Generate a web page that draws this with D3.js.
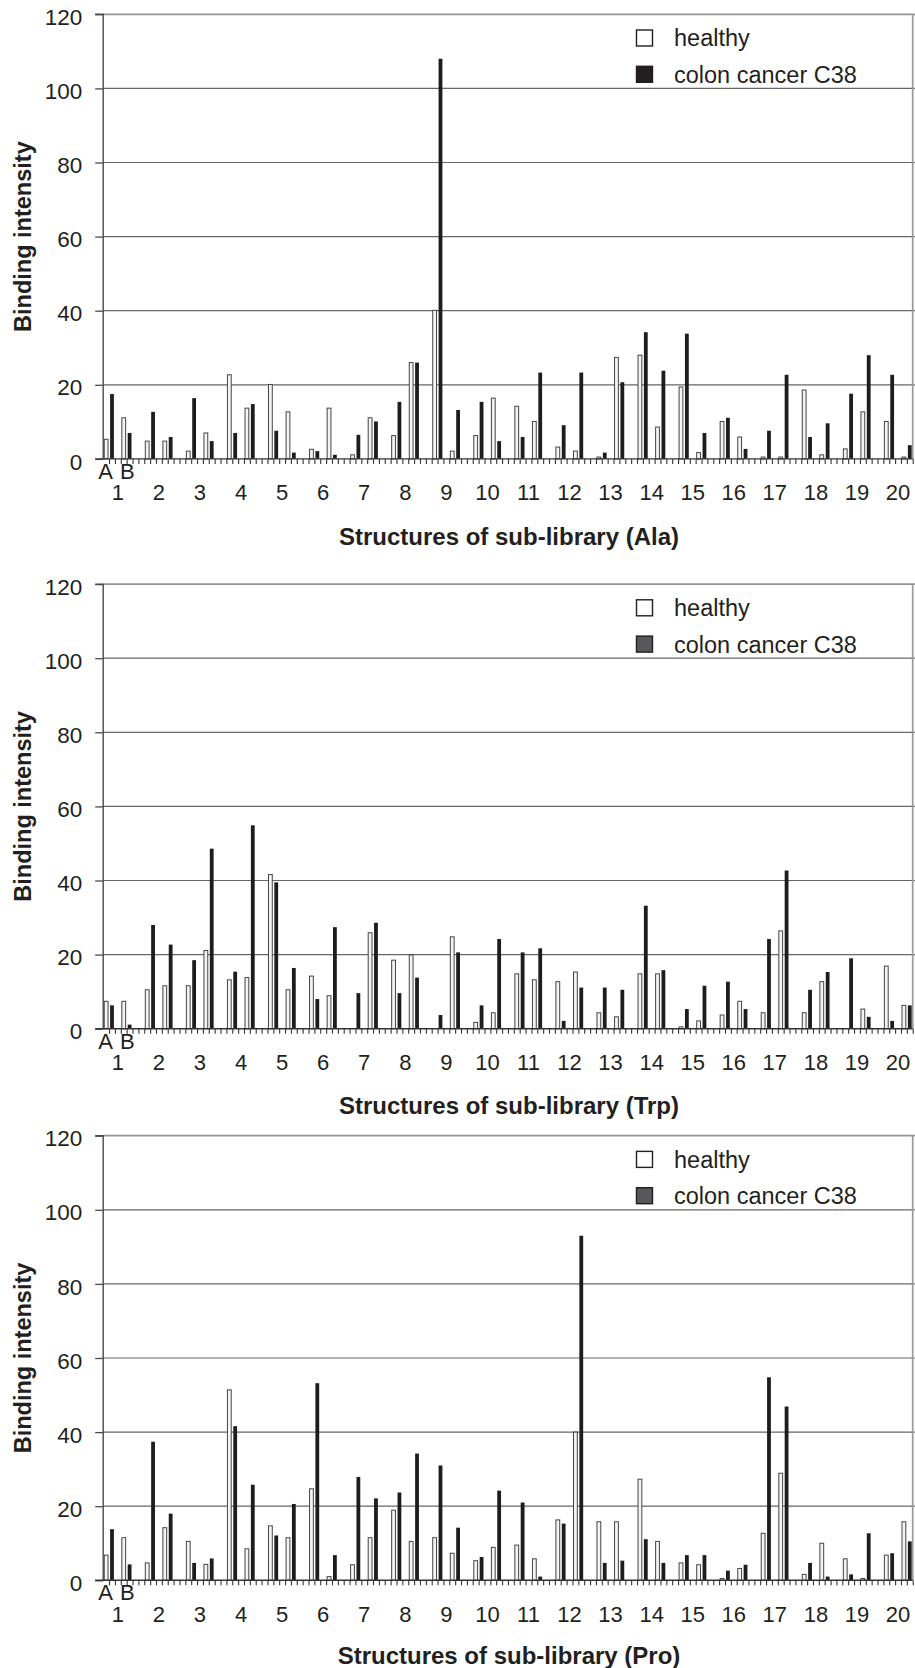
<!DOCTYPE html>
<html>
<head>
<meta charset="utf-8">
<script src="https://cdn.jsdelivr.net/npm/d3@7"></script>
<style>
  html, body { margin: 0; padding: 0; background: #fff; }
  svg { display: block; }
  text { font-family: "Liberation Sans", Arial, Helvetica, sans-serif; fill: #231f20; }
</style>
</head>
<body>
<svg id="chart" width="915" height="1668"></svg>
<script>
// ---------------- DATA ----------------
const structures = d3.range(1, 21);          // structure numbers 1..20
const subCategories = ["A", "B"];            // two variants per structure
const yTicks = [0, 20, 40, 60, 80, 100, 120];
const seriesNames = ["healthy", "colon cancer C38"];
const subLibraries = ["Ala", "Trp", "Pro"];

// values in order 1A,1B,2A,2B,...,20A,20B
const alaHealthy = [5.3, 11.1, 4.8, 4.8, 2.1, 7.0, 22.7, 13.7, 20.1, 12.7,
  2.6, 13.7, 1.1, 11.1, 6.3, 26.0, 40.1, 2.1, 6.3, 16.4,
  14.2, 10.1, 3.2, 2.1, 0.5, 27.4, 28.0, 8.6, 19.4, 1.7,
  10.1, 5.9, 0.5, 0.5, 18.6, 1.1, 2.7, 12.7, 10.1, 0.5];
const alaCancer = [17.5, 7.0, 12.7, 5.9, 16.4, 4.8, 7.0, 14.8, 7.6, 1.7,
  2.1, 1.1, 6.5, 10.1, 15.4, 26.0, 108.0, 13.2, 15.4, 4.8,
  5.9, 23.3, 9.1, 23.3, 1.7, 20.7, 34.2, 23.8, 33.8, 7.0,
  11.1, 2.7, 7.6, 22.7, 5.9, 9.6, 17.6, 28.0, 22.7, 3.7];

const trpHealthy = [7.4, 7.4, 10.5, 11.6, 11.6, 21.1, 13.2, 13.8, 41.6, 10.5,
  14.2, 8.9, 0, 25.9, 18.5, 19.9, 0, 24.8, 1.7, 4.3,
  14.8, 13.2, 12.7, 15.3, 4.3, 3.2, 14.8, 14.8, 0.5, 2.1,
  3.7, 7.4, 4.3, 26.4, 4.3, 12.7, 0, 5.3, 16.9, 6.3];
const trpCancer = [6.3, 1.1, 28.0, 22.7, 18.5, 48.6, 15.4, 54.9, 39.5, 16.4,
  8.0, 27.4, 9.6, 28.6, 9.6, 13.8, 3.7, 20.6, 6.3, 24.2,
  20.6, 21.7, 2.1, 11.1, 11.1, 10.5, 33.2, 15.8, 5.3, 11.6,
  12.7, 5.3, 24.2, 42.7, 10.5, 15.3, 19.0, 3.2, 2.1, 6.3];

const proHealthy = [6.8, 11.5, 4.7, 14.2, 10.5, 4.3, 51.4, 8.5, 14.7, 11.5,
  24.7, 1.0, 4.2, 11.5, 18.9, 10.5, 11.5, 7.3, 5.3, 8.9,
  9.5, 5.8, 16.3, 40.0, 15.8, 15.8, 27.3, 10.5, 4.7, 4.2,
  0.5, 3.2, 12.7, 28.9, 1.6, 10.0, 5.8, 0.5, 6.8, 15.8];
const proCancer = [13.8, 4.3, 37.4, 18.0, 4.7, 5.9, 41.6, 25.8, 12.1, 20.6,
  53.2, 6.8, 27.9, 22.1, 23.7, 34.2, 31.0, 14.2, 6.3, 24.2,
  21.0, 1.0, 15.3, 93.0, 4.7, 5.3, 11.1, 4.7, 6.8, 6.8,
  2.6, 4.2, 54.8, 46.9, 4.7, 1.0, 1.6, 12.7, 7.3, 10.5];

// ---------------- LAYOUT ----------------
const W = 915, H = 1668;
const plotLeft = 103.2, plotRight = 912.7;
const plotH = 444.6;
const panels = [
  { lib: subLibraries[0], healthy: alaHealthy, cancer: alaCancer, top: 14.3,  legendFill: "#231f20", titleOff: 77 },
  { lib: subLibraries[1], healthy: trpHealthy, cancer: trpCancer, top: 584.1, legendFill: "#58585a", titleOff: 77 },
  { lib: subLibraries[2], healthy: proHealthy, cancer: proCancer, top: 1135.7, legendFill: "#58585a", titleOff: 75 }
];

const slotsPerStructure = 7;   // hA, cA, gap, hB, cB, gap, gap
const totalSlots = slotsPerStructure * (structures.length - 1) + 5;
const x = d3.scaleLinear().domain([0, totalSlots]).range([plotLeft, plotRight]);
const barW = 3.8;

const svg = d3.select("#chart");
svg.append("rect").attr("width", W).attr("height", H).attr("fill", "#fff");

panels.forEach(p => {
  const zeroY = p.top + plotH;
  const y = d3.scaleLinear().domain([0, 120]).range([zeroY, p.top]);
  const g = svg.append("g");

  // horizontal gridlines
  g.selectAll("line.grid").data(yTicks.filter(v => v > 0)).enter().append("line")
    .attr("x1", plotLeft).attr("x2", 915)
    .attr("y1", d => y(d)).attr("y2", d => y(d))
    .attr("stroke", d => d === 120 ? "#939393" : "#666666")
    .attr("stroke-width", d => d === 120 ? 1.7 : 1.2);

  // right border
  g.append("line").attr("x1", plotRight).attr("x2", plotRight)
    .attr("y1", y(120)).attr("y2", y(0))
    .attr("stroke", "#9a9a9a").attr("stroke-width", 1.7);

  // build bar records
  const recs = [];
  structures.forEach((s, gi) => {
    subCategories.forEach((sub, k) => {
      const idx = gi * 2 + k;
      const base = gi * slotsPerStructure + k * 3;
      recs.push({ series: 0, slot: base,     v: p.healthy[idx] });
      recs.push({ series: 1, slot: base + 1, v: p.cancer[idx] });
    });
  });
  const bars = recs.filter(r => r.v > 0);

  g.selectAll("rect.bar").data(bars).enter().append("rect")
    .attr("x", d => x(d.slot + 0.5) - barW / 2)
    .attr("width", barW)
    .attr("y", d => y(d.v))
    .attr("height", d => y(0) - y(d.v))
    .attr("fill", d => d.series === 0 ? "#f4f4f4" : "#1e1c1d")
    .attr("stroke", d => d.series === 0 ? "#444" : "none")
    .attr("stroke-width", 1);

  // y axis
  const yAxis = d3.axisLeft(y).tickValues(yTicks).tickSize(8).tickPadding(13)
    .tickFormat(d3.format("d"));
  const ya = g.append("g").attr("transform", `translate(${plotLeft},0)`).call(yAxis);
  ya.select(".domain").attr("stroke", "#4a4a4a").attr("stroke-width", 1.4)
    .attr("d", `M-8,${y(120)}H0V${y(0)}`);
  ya.selectAll(".tick line").attr("stroke", "#4a4a4a").attr("stroke-width", 1.3);
  ya.selectAll(".tick text").attr("font-size", 22.5).attr("fill", "#231f20")
    .attr("font-family", '"Liberation Sans", Arial, sans-serif').attr("dy", "0.45em");

  // x axis with minor slot ticks
  const xAxis = d3.axisBottom(x).tickValues(d3.range(1, totalSlots + 1)).tickSize(5).tickFormat("");
  const xa = g.append("g").attr("transform", `translate(0,${zeroY})`).call(xAxis);
  xa.select(".domain").attr("stroke", "#333").attr("stroke-width", 1.4)
    .attr("d", `M${plotLeft - 8},0H${plotRight}`);
  xa.selectAll(".tick line").attr("stroke", "#333").attr("stroke-width", 1.1);

  // A / B labels under first structure
  g.append("text").attr("x", x(0.4)).attr("y", zeroY + 12).attr("dy", "0.36em")
    .attr("text-anchor", "middle").attr("font-size", 22).text(subCategories[0]);
  g.append("text").attr("x", x(4.1)).attr("y", zeroY + 12).attr("dy", "0.36em")
    .attr("text-anchor", "middle").attr("font-size", 22).text(subCategories[1]);

  // structure number labels
  g.selectAll("text.num").data(structures).enter().append("text")
    .attr("x", (d, i) => x(i * slotsPerStructure + 2.5))
    .attr("y", zeroY + 33.5).attr("dy", "0.36em")
    .attr("text-anchor", "middle").attr("font-size", 22)
    .text(d => d);

  // x title
  g.append("text").attr("x", 509).attr("y", zeroY + p.titleOff).attr("dy", "0.36em")
    .attr("text-anchor", "middle").attr("font-size", 24).attr("font-weight", "bold")
    .text(`Structures of sub-library (${p.lib})`);

  // y title
  g.append("text")
    .attr("transform", `translate(23,${(p.top + zeroY) / 2}) rotate(-90)`)
    .attr("dy", "0.36em").attr("text-anchor", "middle")
    .attr("font-size", 23.5).attr("font-weight", "bold")
    .text("Binding intensity");

  // legend
  const lg = g.append("g");
  const rows = [p.top + 23.7, p.top + 60];
  seriesNames.forEach((name, i) => {
    lg.append("rect").attr("x", 636.5).attr("y", rows[i] - 8).attr("width", 16).attr("height", 16)
      .attr("fill", i === 0 ? "#fff" : p.legendFill)
      .attr("stroke", "#231f20").attr("stroke-width", 1.4);
    lg.append("text").attr("x", 674).attr("y", rows[i]).attr("dy", "0.36em")
      .attr("font-size", 23.5).text(name);
  });
});
</script>
</body>
</html>
